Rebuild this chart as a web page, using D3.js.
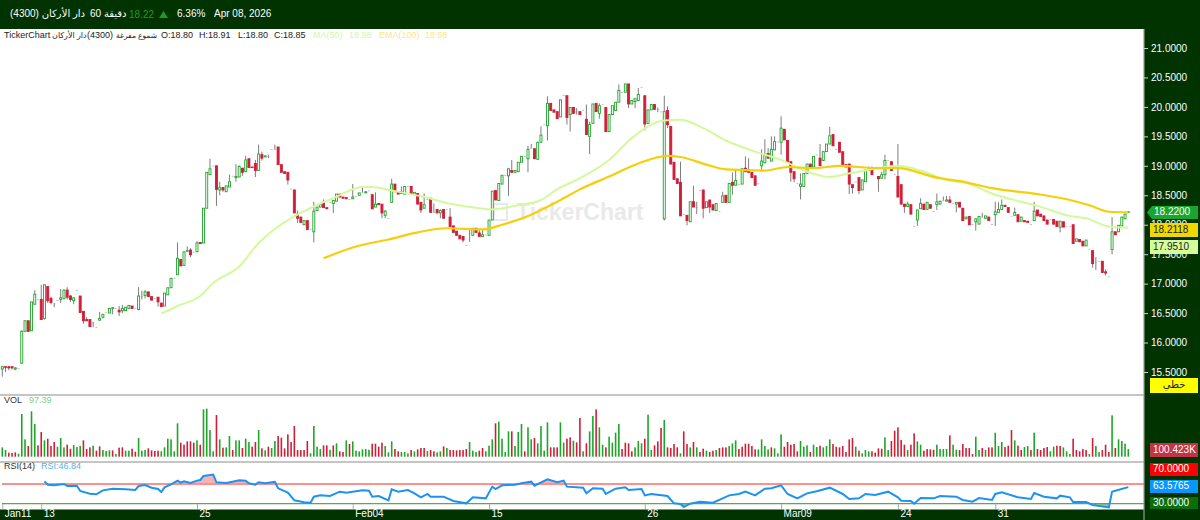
<!DOCTYPE html>
<html>
<head>
<meta charset="utf-8">
<script src="https://cdn.jsdelivr.net/npm/d3@7"></script>
<style>
  html, body { margin: 0; padding: 0; background: #fff; }
  svg { display: block; font-family: "Liberation Sans", "DejaVu Sans", sans-serif; }
</style>
</head>
<body>
<svg id="chart" width="1200" height="520"></svg>
<script>
// 60 minute candles
const opens = [
  15.55,15.59,15.59,15.59,15.55,15.56,15.65,16.19,16.37,16.2,
  16.65,16.73,16.73,16.41,16.95,16.75,16.66,16.72,16.73,16.75,
  16.89,16.79,16.71,16.89,16.79,16.53,16.39,16.39,16.35,16.26,
  16.38,16.43,16.51,16.5,16.58,16.58,16.55,16.54,16.54,16.58,
  16.62,16.58,16.56,16.79,16.8,16.86,16.78,16.75,16.77,16.67,
  16.62,16.81,16.93,17.09,17.15,17.41,17.31,17.55,17.57,17.54,
  17.54,17.7,17.69,18.28,18.85,19,19,18.59,18.63,18.56,
  18.64,18.83,18.8,18.81,18.96,18.9,19.12,18.98,19.04,18.92,
  19.19,19.15,19.16,19.28,19.28,19.32,19.02,18.9,18.89,18.61,
  18.59,18.18,18.13,18.0,18.07,17.92,17.88,18.24,18.3,18.38,
  18.29,18.38,18.36,18.4,18.52,18.47,18.46,18.43,18.44,18.48,
  18.5,18.55,18.54,18.58,18.51,18.3,18.36,18.35,18.16,18.11,
  18.38,18.69,18.55,18.53,18.52,18.65,18.65,18.52,18.53,18.38,
  18.28,18.43,18.45,18.21,18.26,18.2,18.26,18.26,18.13,17.98,
  17.89,17.82,17.8,17.65,17.85,17.82,17.94,17.86,17.8,17.83,
  17.82,18.08,18.58,18.41,18.69,18.84,18.83,18.92,18.89,18.9,
  19.06,19.16,19.12,19.3,19.29,19.11,19.4,19.7,19.68,20.06,
  19.95,19.92,19.83,20.2,20.19,19.87,19.99,19.92,19.92,19.95,
  19.79,19.5,19.72,20.06,19.89,20.04,19.99,19.58,19.87,19.94,
  20.08,20.25,20.25,20.39,20.05,20.09,20.11,20.34,20.19,19.72,
  19.95,20.04,19.96,19.92,18.1,19.94,19.67,19.06,18.78,18.72,
  18.18,18.16,18.05,18.39,18.3,18.59,18.59,18.29,18.42,18.34,
  18.24,18.23,18.38,18.5,18.38,18.72,18.67,18.69,18.69,18.96,
  18.93,18.89,18.83,18.7,19.0,19.05,19.21,19.08,19.27,19.41,
  19.4,19.62,19.43,19.07,18.9,18.7,18.65,18.65,18.87,19.03,
  18.98,19.19,19.13,19.09,19.24,19.37,19.53,19.28,19.4,19.24,
  19.02,19.03,18.68,18.73,18.8,18.59,18.73,18.92,18.93,18.97,
  18.82,18.79,18.85,19.1,19.07,18.86,18.82,18.68,18.35,18.31,
  18.34,17.98,18.08,18.27,18.35,18.26,18.34,18.23,18.34,18.35,
  18.41,18.4,18.42,18.36,18.35,18.38,18.28,18.1,18.14,18.01,
  18.05,18.01,18.13,18.11,18.13,18.01,18.17,18.21,18.26,18.33,
  18.29,18.15,18.16,18.17,18.06,18.07,18.06,18.01,18.07,18.25,
  18.18,18.15,18.08,18.09,18.09,18.06,17.96,18.05,17.97,17.97,
  18.0,17.72,17.75,17.72,17.64,17.59,17.56,17.37,17.38,17.38,
  17.2,17.12,17.58,17.88,17.88,17.98,18.1,18.21
]
const closes = [
  15.59,15.58,15.57,15.57,15.57,15.56,16.19,16.37,16.19,16.69,
  16.82,16.73,16.39,16.98,16.71,16.68,16.66,16.72,16.76,16.89,
  16.77,16.73,16.76,16.89,16.51,16.37,16.37,16.27,16.35,16.26,
  16.41,16.48,16.51,16.58,16.59,16.58,16.52,16.58,16.6,16.63,
  16.58,16.58,16.79,16.79,16.86,16.78,16.72,16.75,16.69,16.61,
  16.84,16.93,17.09,17.09,17.43,17.3,17.54,17.56,17.49,17.54,
  17.69,17.68,18.28,18.89,18.95,19,18.6,18.63,18.59,18.66,
  18.73,18.83,18.82,18.99,18.89,19.1,18.97,18.97,18.92,19.2,
  19.13,19.17,19.16,19.28,19.28,19.02,18.89,18.87,18.76,18.61,
  18.2,18.11,18.04,18.07,17.92,17.92,18.23,18.3,18.35,18.29,
  18.27,18.38,18.41,18.52,18.47,18.45,18.44,18.43,18.47,18.48,
  18.54,18.55,18.56,18.58,18.27,18.35,18.34,18.2,18.23,18.11,
  18.69,18.56,18.52,18.56,18.65,18.65,18.52,18.55,18.35,18.25,
  18.34,18.43,18.21,18.21,18.2,18.24,18.11,18.26,17.97,17.87,
  17.82,17.76,17.74,17.65,17.85,17.94,17.87,17.8,17.83,17.83,
  18.08,18.57,18.42,18.7,18.84,18.84,18.95,18.89,18.92,19.06,
  19.16,19.16,19.28,19.3,19.12,19.4,19.52,19.7,20.06,19.94,
  19.91,19.8,20.12,20.2,19.82,19.99,19.89,19.92,19.87,19.95,
  19.53,19.7,20.05,19.92,20.02,20.04,19.58,19.87,20.02,20.08,
  20.28,20.25,20.39,20.05,20.11,20.14,20.21,20.34,19.71,19.95,
  20.04,19.96,19.96,19.92,19.92,19.7,19.03,18.77,18.7,18.15,
  18.18,18.07,18.39,18.3,18.3,18.59,18.28,18.39,18.3,18.25,
  18.36,18.23,18.49,18.38,18.7,18.67,18.75,18.69,18.95,18.9,
  18.89,18.8,18.67,18.7,19.08,19.18,19.13,19.28,19.41,19.41,
  19.64,19.44,19.07,18.89,18.78,18.7,18.69,18.87,19.03,18.98,
  19.16,19.19,19.0,19.24,19.37,19.51,19.34,19.28,19.23,19.0,
  18.98,18.69,18.63,18.73,18.58,18.76,18.93,18.94,18.85,18.97,
  18.78,18.85,19.09,19.1,18.92,18.86,18.47,18.35,18.31,18.35,
  18.18,17.98,18.25,18.36,18.26,18.38,18.28,18.23,18.39,18.4,
  18.41,18.42,18.38,18.36,18.38,18.3,18.07,18.13,18.0,18.01,
  18.1,18.14,18.13,18.15,18.07,18.01,18.22,18.26,18.33,18.31,
  18.21,18.15,18.21,18.05,18.13,18.05,18.04,18.01,18.23,18.15,
  18.14,18.07,18.01,18.09,18.01,17.97,18.06,17.96,17.97,17.97,
  17.68,17.76,17.71,17.64,17.74,17.59,17.34,17.37,17.38,17.19,
  17.18,17.12,17.88,17.83,17.99,18.13,18.18,18.22
]
const highs = [
  15.6,15.6,15.6,15.59,15.58,15.56,16.21,16.37,16.37,16.69,
  16.89,16.73,16.98,16.98,16.95,16.78,16.67,16.72,16.91,16.9,
  16.94,16.81,16.76,16.89,16.79,16.53,16.43,16.39,16.35,16.26,
  16.52,16.48,16.51,16.58,16.6,16.58,16.62,16.64,16.6,16.63,
  16.62,16.58,16.94,16.88,16.89,16.86,16.78,16.75,16.77,16.67,
  16.84,16.93,17.09,17.09,17.7,17.41,17.54,17.63,17.6,17.54,
  17.72,17.7,18.28,18.89,19.12,19,19,18.73,18.63,18.66,
  18.85,18.83,19.03,19.01,18.96,19.17,19.12,18.98,19.1,19.36,
  19.24,19.17,19.19,19.28,19.36,19.32,19.02,18.9,18.89,18.61,
  18.59,18.24,18.13,18.07,18.07,17.92,18.39,18.3,18.35,18.43,
  18.29,18.38,18.41,18.52,18.52,18.47,18.46,18.43,18.69,18.48,
  18.54,18.65,18.56,18.58,18.51,18.55,18.36,18.35,18.25,18.11,
  18.78,18.69,18.55,18.65,18.65,18.65,18.65,18.55,18.53,18.38,
  18.53,18.43,18.45,18.36,18.26,18.26,18.26,18.26,18.28,17.98,
  17.89,17.82,17.8,17.65,17.94,17.94,17.94,17.92,17.91,17.83,
  18.08,18.57,18.58,18.7,18.84,18.84,18.95,19.1,18.92,19.06,
  19.16,19.16,19.34,19.37,19.29,19.4,19.67,19.7,20.18,20.06,
  19.95,19.92,20.12,20.2,20.19,19.99,19.99,19.98,19.92,19.95,
  20.04,19.75,20.05,20.06,20.06,20.04,19.99,19.87,20.02,20.08,
  20.38,20.25,20.39,20.39,20.11,20.14,20.32,20.34,20.19,19.95,
  20.04,20.04,19.99,19.92,20.19,20.01,19.67,19.06,18.78,19.07,
  18.18,18.16,18.39,18.66,18.39,18.59,18.59,18.39,18.42,18.34,
  18.36,18.23,18.56,18.5,18.7,18.89,18.93,18.69,18.95,19.16,
  19.13,18.89,18.83,18.7,19.28,19.45,19.3,19.5,19.5,19.41,
  19.84,19.62,19.43,19.07,18.9,18.7,18.87,18.87,19.03,19.03,
  19.16,19.19,19.37,19.24,19.37,19.66,19.53,19.28,19.4,19.24,
  19.02,19.03,18.68,18.73,18.8,18.76,18.93,18.99,18.99,18.97,
  18.82,18.9,19.19,19.1,19.07,18.86,19.37,18.68,18.35,18.39,
  18.34,17.98,18.25,18.45,18.35,18.38,18.34,18.23,18.53,18.4,
  18.48,18.49,18.49,18.36,18.38,18.38,18.28,18.13,18.14,18.01,
  18.1,18.14,18.2,18.15,18.13,18.01,18.39,18.38,18.43,18.33,
  18.29,18.15,18.29,18.17,18.13,18.07,18.06,18.01,18.39,18.25,
  18.18,18.15,18.08,18.09,18.09,18.06,18.06,18.05,17.97,17.97,
  18.0,17.76,17.75,17.72,17.74,17.59,17.56,17.45,17.38,17.38,
  17.24,17.12,18.13,17.88,17.99,18.13,18.18,18.23
]
const lows = [
  15.42,15.5,15.53,15.54,15.53,15.56,15.64,16.19,16.18,16.2,
  16.65,16.73,16.39,16.39,16.67,16.65,16.6,16.72,16.67,16.73,
  16.73,16.69,16.65,16.89,16.51,16.32,16.37,16.27,16.26,16.26,
  16.37,16.41,16.51,16.5,16.48,16.58,16.45,16.5,16.54,16.58,
  16.58,16.58,16.55,16.73,16.75,16.78,16.72,16.75,16.61,16.61,
  16.62,16.81,16.93,17.09,17.15,17.3,17.31,17.55,17.45,17.54,
  17.54,17.68,17.69,18.28,18.85,19,18.32,18.5,18.56,18.56,
  18.64,18.83,18.73,18.81,18.83,18.9,18.97,18.97,18.81,18.92,
  19.09,19.15,19.13,19.28,19.28,19.02,18.89,18.87,18.68,18.61,
  18.2,18.03,18.04,18.0,17.92,17.92,17.7,18.24,18.3,18.29,
  18.27,18.38,18.2,18.4,18.47,18.45,18.44,18.43,18.44,18.48,
  18.5,18.55,18.54,18.58,18.27,18.3,18.34,18.11,18.11,18.11,
  18.38,18.56,18.52,18.53,18.52,18.65,18.52,18.52,18.35,18.2,
  18.28,18.43,18.21,18.21,18.2,18.11,18.11,18.26,17.97,17.87,
  17.82,17.76,17.7,17.65,17.71,17.82,17.87,17.8,17.8,17.83,
  17.82,18.08,18.42,18.41,18.69,18.84,18.49,18.89,18.89,18.9,
  19.06,19.16,18.89,19.3,19.12,19.11,19.4,19.7,19.43,19.94,
  19.91,19.8,19.83,20.2,19.7,19.58,19.89,19.87,19.87,19.95,
  19.53,19.2,19.72,19.92,19.8,20.04,19.58,19.58,19.87,19.94,
  20.08,20.25,20.25,19.98,20.05,19.98,20.11,20.34,19.6,19.72,
  19.95,19.96,19.91,19.92,18.07,19.64,19.03,18.77,18.7,18.15,
  18.18,17.99,18.05,18.3,18.18,18.59,18.11,18.29,18.2,18.25,
  18.24,18.23,18.38,18.38,18.38,18.51,18.67,18.69,18.69,18.9,
  18.89,18.8,18.67,18.7,18.9,19.05,19.13,19.08,19.27,19.41,
  19.19,19.44,19.07,18.73,18.72,18.7,18.43,18.65,18.87,18.98,
  18.98,19.19,19.0,19.09,19.24,19.37,19.34,19.28,19.23,19.0,
  18.98,18.52,18.53,18.73,18.52,18.59,18.73,18.92,18.85,18.97,
  18.56,18.79,18.77,19.1,18.92,18.86,18.47,18.35,18.2,18.31,
  18.18,17.98,17.98,18.27,18.26,18.26,18.28,18.23,18.25,18.35,
  18.41,18.4,18.38,18.36,18.21,18.3,18.07,18.1,18.0,18.01,
  17.9,18.01,18.13,18.11,18.07,18.01,17.98,18.21,18.26,18.31,
  18.21,18.15,18.16,18.05,18.06,18.05,18.04,18.01,18.07,18.15,
  18.14,18.07,18.01,18.09,18.01,17.97,17.87,17.96,17.97,17.97,
  17.68,17.72,17.71,17.64,17.64,17.59,17.27,17.23,17.38,17.19,
  17.14,17.12,17.5,17.83,17.88,17.98,18.1,18.21
]

// volume per candle, about 4.4K a unit, negative means a red bar
const volumes = [
  28,20,-12,-11,-13,9,128,52,-32,136,
  98,-34,-74,49,-54,-32,-44,30,56,28,
  -36,-24,35,29,32,-49,-23,-28,33,-18,
  -31,20,17,19,-19,8,-27,-28,18,18,
  -24,-15,56,18,20,-25,-19,-17,-18,16,
  28,54,52,16,100,-42,-36,-46,-46,-42,
  49,-36,142,144,80,16,-125,52,-27,28,
  62,-20,49,49,-26,54,44,-30,-44,80,
  -25,19,-30,26,47,-62,-57,-25,-67,-44,
  -92,-20,-20,-20,-47,10,92,30,23,-34,
  -34,21,-34,40,-16,-14,49,-38,46,18,
  16,22,23,21,-39,-39,-30,-42,32,13,
  46,-23,-16,
  14,14,10,-20,16,-22,-26,-26,17,-20,
  -16,13,16,-31,26,-20,-20,-19,-20,-20,
  -23,44,18,14,-18,-26,16,33,52,-100,
  105,54,14,76,-76,32,74,98,-16,88,
  52,-56,40,92,18,103,-28,-28,-28,103,
  42,-54,-58,48,-43,-116,16,-40,76,122,
  -142,88,36,-28,60,42,72,98,-23,-42,
  -40,-16,28,47,40,-54,126,20,-34,-46,
  -86,110,-28,-26,-38,-28,10,-76,-38,28,
  -44,28,-14,-24,18,-14,-18,20,-26,-28,
  -28,32,40,49,-23,-30,-39,-39,-32,-22,
  22,52,32,22,-28,25,10,67,-30,-44,
  -36,-38,-16,47,
  30,34,-14,36,29,-33,28,32,52,-38,
  -30,-28,-32,-14,-52,-56,30,-18,10,20,
  16,-16,-12,-25,-24,58,20,-47,-78,-88,
  -50,-36,20,-36,-70,46,36,-18,-23,-22,
  -21,36,23,23,23,-64,36,21,-20,-38,
  -26,-26,-8,60,20,-26,20,-28,-28,72,
  32,44,-29,-33,-80,49,-33,-20,29,32,
  -20,72,-23,-20,-26,-29,16,30,-33,-32,
  28,16,8,-54,-20,-16,-23,-20,8,-56,
  32,14,-20,-36,-14,124,-26,52,47,39,
  23
]

// moving averages, candle number and value at the bends of each line
const maBars = [49,54,61,65,73,79,85,90,96,102,111,114,120,130,137,143,151,158,166,171,178,187,194,204,209,216,223,232,240,248,255,260,269,276,283,291,298,305,311,319,329,334,341,347]
const maValues = [16.49,16.62,16.79,17.01,17.29,17.69,17.97,18.14,18.31,18.45,18.64,18.64,18.58,18.47,18.37,18.31,18.26,18.32,18.42,18.6,18.79,19.1,19.47,19.77,19.78,19.64,19.43,19.24,19.1,18.9,18.81,18.86,18.95,19.0,18.92,18.76,18.69,18.53,18.43,18.32,18.15,18.11,17.97,17.95]
const emaBars = [99,109,119,128,137,148,154,163,171,178,187,196,205,209,217,223,235,242,250,258,270,276,288,297,305,319,329,335,341,347]
const emaValues = [17.43,17.63,17.75,17.87,17.94,17.92,18.0,18.17,18.39,18.6,18.82,19.04,19.17,19.15,19.02,18.94,18.92,18.98,18.96,19.0,18.96,18.96,18.8,18.72,18.62,18.52,18.42,18.33,18.22,18.21]

const rsiBars = [
  13,14,16,19,20,23,24,27,29,31,34,38,41,42,44,46,48,49,50,52,54,55,56,58,60,61,62,65,66,69,72,73,75,76,78,79,81,84,85,88,90,93,95,96,98,101,104,106,111,113,114,116,119,120,122,
  125,127,129,131,132,136,139,143,145,149,151,152,154,158,160,163,164,168,171,173,174,179,180,182,185,186,189,192,193,197,198,200,205,207,209,210,212,215,219,222,224,227,229,232,235,237,240,242,245,
  248,251,255,259,261,264,266,269,273,276,277,280,281,283,287,289,294,296,299,301,305,306,308,313,317,318,321,325,326,329,330,334,336,341,342,343,347
]
const rsiValues = [
  75.4,68.6,67.3,70,65.9,66.6,55.8,50.3,49,57.1,60.5,59.2,57.8,65.9,68,62.5,59.8,53.7,63.2,69.3,76.8,72.7,75.4,72,76.8,78.1,86.3,89,73.4,72,76.1,77.5,76.8,71.4,68.6,73.4,71.4,74.1,61.2,52.4,36.8,32.7,32,44.2,46.9,45.6,54.4,52.4,57.1,56.4,44.2,45.6,36.8,59.2,54.4,
  57.8,51,42.9,49.7,44.2,44.2,35.4,30.7,42.9,40.8,64.6,59.8,67.3,68.6,71.4,74.7,66.6,79.5,73.4,76.8,64.6,62.5,51,61.2,60.5,49.7,60.5,63.2,57.8,59.8,46.9,49.7,45.6,30.7,29.3,23.2,30,34,32,40.8,46.9,49.7,54.4,46.9,60.5,61.2,67.3,49.7,40.8,
  51,55.1,62.5,49.7,39.5,40.8,49.7,47.6,54.4,42.9,36.1,35.4,30,41.5,40.8,45.6,44.2,37.5,34,41.5,37.5,49.7,53,42.9,39.5,51.7,44.2,40.8,46.3,42.9,33.4,33.4,27.3,22.5,54.4,56.4,63.58
]

const dateBars = [0,12,60,108,150,198,240,276,306]
const dateLabels = ['Jan11','13','25','Feb04','15','26','Mar09','24','31']
const priceTicks = [15.5,16,16.5,17,17.5,18,18.5,19,19.5,20,20.5,21]

const dark = '#003300'
const upColor = '#1fa52a'
const downColor = '#cf1f38'

const svg = d3.select('#chart')

const x = d3.scaleLinear().domain([0, 347]).range([2.3, 1128.3])
const y = d3.scaleLinear().domain([15.5, 21]).range([372, 48])
const yVol = d3.scaleLinear().domain([0, 185]).range([456.7, 395])
const yRsi = d3.scaleLinear().domain([19.2, 112.6]).range([509, 463])

// watermark sits under everything
const mark = svg.append('g').attr('fill', '#e9e9e9')
mark.append('rect').attr('x', 494).attr('y', 204).attr('width', 13).attr('height', 16)
  .attr('fill', 'none').attr('stroke', '#e9e9e9').attr('stroke-width', 2)
mark.append('text').attr('x', 516).attr('y', 220).attr('font-size', 23).attr('font-weight', 'bold')
  .text('TickerChart')

// candles
const candles = svg.append('g').selectAll('g')
  .data(opens.map((o, i) => ({ i, o, c: closes[i], h: highs[i], l: lows[i] })))
  .join('g')

candles.append('line')
  .attr('x1', d => x(d.i)).attr('x2', d => x(d.i))
  .attr('y1', d => y(d.h)).attr('y2', d => y(d.l))
  .attr('stroke', '#7d7d7d').attr('stroke-width', 1)

candles.append('rect')
  .attr('x', d => x(d.i) - 1)
  .attr('width', 2)
  .attr('y', d => y(Math.max(d.o, d.c)))
  .attr('height', d => Math.max(Math.abs(y(d.o) - y(d.c)), 0.6))
  .attr('fill', d => d.c < d.o ? downColor : (d.c === d.o ? '#999' : '#fff'))
  .attr('stroke', d => d.c < d.o ? downColor : (d.c === d.o ? 'none' : upColor))
  .attr('stroke-width', 0.9)

// moving averages
const avgLine = d3.line().x(d => x(d[0])).y(d => y(d[1])).curve(d3.curveMonotoneX)
svg.append('path').attr('d', avgLine(d3.zip(maBars, maValues)))
  .attr('fill', 'none').attr('stroke', '#d2fa9c').attr('stroke-width', 2)
svg.append('path').attr('d', avgLine(d3.zip(emaBars, emaValues)))
  .attr('fill', 'none').attr('stroke', '#f6cf0c').attr('stroke-width', 2.2)

// volume pane
svg.append('g').selectAll('rect')
  .data(volumes)
  .join('rect')
  .attr('x', (d, i) => x(i) - 0.8)
  .attr('width', 1.6)
  .attr('y', d => yVol(Math.abs(d)))
  .attr('height', d => yVol(0) - yVol(Math.abs(d)))
  .attr('fill', d => d < 0 ? downColor : upColor)

// rsi pane
const rsiData = d3.zip(rsiBars, rsiValues)
svg.append('clipPath').attr('id', 'above70').append('rect')
  .attr('x', 0).attr('y', 463).attr('width', 1144).attr('height', yRsi(70) - 463)
svg.append('clipPath').attr('id', 'below30').append('rect')
  .attr('x', 0).attr('y', yRsi(30)).attr('width', 1144).attr('height', 509 - yRsi(30))
svg.append('path')
  .attr('d', d3.area().x(d => x(d[0])).y0(yRsi(70)).y1(d => yRsi(d[1]))(rsiData))
  .attr('clip-path', 'url(#above70)').attr('fill', '#f7b3b3')
svg.append('path')
  .attr('d', d3.area().x(d => x(d[0])).y0(yRsi(30)).y1(d => yRsi(d[1]))(rsiData))
  .attr('clip-path', 'url(#below30)').attr('fill', '#8fc48f')
svg.append('line').attr('x1', 2).attr('x2', 1144).attr('y1', yRsi(70)).attr('y2', yRsi(70))
  .attr('stroke', '#ff8f8f').attr('stroke-width', 1.8)
svg.append('line').attr('x1', 2).attr('x2', 1144).attr('y1', yRsi(30)).attr('y2', yRsi(30))
  .attr('stroke', '#58ad48').attr('stroke-width', 1.2)
svg.append('path')
  .attr('d', d3.line().x(d => x(d[0])).y(d => yRsi(d[1]))(rsiData))
  .attr('fill', 'none').attr('stroke', '#1c93f0').attr('stroke-width', 2)

// pane separators
svg.selectAll('.sep').data([395, 462, 509.5]).join('line').attr('class', 'sep')
  .attr('x1', 0).attr('x2', 1144).attr('y1', d => d).attr('y2', d => d)
  .attr('stroke', '#8c8c8c').attr('stroke-width', 1.2)

// pane captions
const captions = [
  ['VOL', 4, 400.5, '#333'], ['97.39', 29, 400.5, '#7fd07f'],
  ['RSI(14)', 4, 467, '#333'], ['RSI:46.84', 41, 467, '#59aef5']
]
svg.append('g').selectAll('text').data(captions).join('text')
  .attr('x', d => d[1]).attr('y', d => d[2]).attr('fill', d => d[3])
  .attr('dominant-baseline', 'middle').attr('font-size', 9)
  .text(d => d[0])

// frame
svg.append('rect').attr('x', 0).attr('y', 0).attr('width', 1200).attr('height', 29).attr('fill', dark)
svg.append('rect').attr('x', 1144).attr('y', 29).attr('width', 56).attr('height', 491).attr('fill', dark)
svg.append('rect').attr('x', 0).attr('y', 510).attr('width', 1144).attr('height', 10).attr('fill', dark)
svg.append('line').attr('x1', 1144).attr('x2', 1144).attr('y1', 29).attr('y2', 520)
  .attr('stroke', '#8f9f8f').attr('stroke-width', 1.2)

// price axis
const priceAxis = svg.append('g').attr('transform', 'translate(1144,0)')
  .call(d3.axisRight(y).tickValues(priceTicks).tickFormat(d3.format('.4f')).tickSize(4).tickPadding(3))
priceAxis.select('.domain').remove()
priceAxis.selectAll('line').attr('stroke', '#c8d4c8')
priceAxis.selectAll('text').attr('fill', '#fff').attr('font-size', 10)
  .attr('font-family', '"Liberation Sans", sans-serif')

// date axis, ticks reach up into the rsi pane
const dateAxis = svg.append('g').attr('transform', 'translate(0,509)')
  .call(d3.axisBottom(x).tickValues(dateBars).tickFormat((d, i) => dateLabels[i]).tickSizeInner(-5).tickSizeOuter(0))
dateAxis.select('.domain').remove()
dateAxis.selectAll('line').attr('stroke', '#aaa')
dateAxis.selectAll('text').attr('fill', '#fff').attr('font-size', 10)
  .attr('text-anchor', 'start').attr('dx', 2).attr('y', 1).attr('dy', '0.71em')
  .attr('font-family', '"Liberation Sans", sans-serif')

// header rows: text, x, y, colour, size
const headerTexts = [
  ['دار الأركان (4300)', 10, 14, '#fff', 10],
  ['60 دقيقة', 90, 14, '#fff', 10],
  ['18.22', 129, 15, '#1f9a2a', 10],
  ['6.36%', 177, 14, '#fff', 10],
  ['Apr 08, 2026', 214, 14, '#fff', 10],
  ['TickerChart', 4, 36, '#222', 9],
  ['دار الأركان', 52, 36, '#222', 8],
  ['(4300)', 87, 36, '#222', 9],
  ['شموع مفرغة', 116, 36, '#222', 7.5],
  ['O:18.80', 161, 36, '#222', 9],
  ['H:18.91', 199, 36, '#222', 9],
  ['L:18.80', 238, 36, '#222', 9],
  ['C:18.85', 274, 36, '#222', 9],
  ['MA(50)', 313, 36, '#d6f5a8', 9],
  ['18.98', 349, 36, '#d6f5a8', 9],
  ['EMA(100)', 379, 36, '#ffe680', 9],
  ['18.98', 425, 36, '#ffe680', 9]
]
svg.append('g').selectAll('text').data(headerTexts).join('text')
  .attr('x', d => d[1]).attr('y', d => d[2]).attr('fill', d => d[3])
  .attr('dominant-baseline', 'middle').attr('font-size', d => d[4])
  .text(d => d[0])
svg.append('path').attr('d', 'M159,18 L168,18 L163.5,11 Z').attr('fill', '#1f9a2a')

// value tags on the right
const tagTexts = ['18.2118', '17.9510', 'خطي', '100.423K', '70.0000', '63.5765', '30.0000']
const tagTops = [223, 240, 378, 443, 463, 480, 497]
const tagHeights = [14, 14, 15, 14, 13, 13, 12]
const tagFills = ['#f0d800', '#d4ff99', '#ffff00', '#c23345', '#ff0000', '#0a96ff', '#0a6e0a']
const tagInks = ['#222', '#222', '#222', '#fff', '#fff', '#fff', '#fff']
const tags = svg.append('g').selectAll('g').data(tagTexts).join('g')
tags.append('rect').attr('x', 1150).attr('width', 48)
  .attr('y', (d, i) => tagTops[i]).attr('height', (d, i) => tagHeights[i])
  .attr('fill', (d, i) => tagFills[i])
tags.append('text').attr('x', (d, i) => i === 2 ? 1174 : 1153)
  .attr('text-anchor', (d, i) => i === 2 ? 'middle' : 'start')
  .attr('y', (d, i) => tagTops[i] + tagHeights[i] / 2).attr('dominant-baseline', 'middle')
  .attr('font-size', 10).attr('fill', (d, i) => tagInks[i])
  .text(d => d)

svg.append('path').attr('d', 'M1147,212.5 L1152,206 L1198,206 L1198,219 L1152,219 Z').attr('fill', '#18a62c')
svg.append('text').attr('x', 1154).attr('y', 212.5).attr('dominant-baseline', 'middle')
  .attr('font-size', 10).attr('fill', '#fff').text('18.2200')
</script>
</body>
</html>
